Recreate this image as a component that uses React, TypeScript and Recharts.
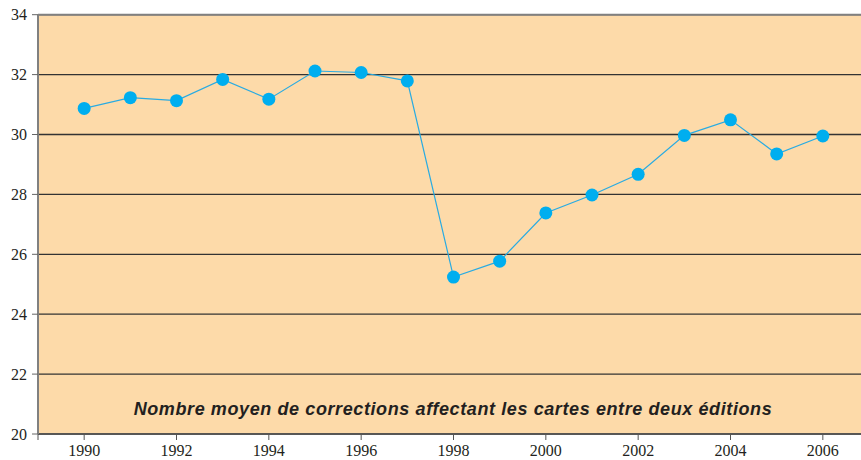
import React from 'react';
import { LineChart, Line, XAxis, YAxis, CartesianGrid, ReferenceLine, Customized } from 'recharts';

const years = [1990, 1991, 1992, 1993, 1994, 1995, 1996, 1997, 1998, 1999, 2000, 2001, 2002, 2003, 2004, 2005, 2006];
const corrections = [30.87, 31.23, 31.13, 31.84, 31.18, 32.12, 32.07, 31.79, 25.24, 25.77, 27.38, 27.98, 28.67, 29.97, 30.49, 29.35, 29.95];
const xTicks = [1989, 1990, 1992, 1994, 1996, 1998, 2000, 2002, 2004, 2006];
const yTicks = [20, 22, 24, 26, 28, 30, 32, 34];
const title = 'Nombre moyen de corrections affectant les cartes entre deux éditions';

const data = years.map((year, i) => ({ year, value: corrections[i] }));

const TitleText = () => (
  <text
    x={453}
    y={415}
    textAnchor="middle"
    fontFamily="'Liberation Sans', Arial, sans-serif"
    fontWeight="bold"
    fontStyle="italic"
    fontSize={18}
    letterSpacing={0.6}
    fill="#231f20"
  >
    {title}
  </text>
);

export default function App() {
  return (
    <div style={{ position: 'fixed', left: 0, top: 0, width: 861, height: 460, overflow: 'hidden', background: '#fff' }}>
      <LineChart width={870} height={460} data={data} margin={{ top: 14.7, right: 1, bottom: 0, left: 0 }}>
        <CartesianGrid vertical={false} stroke="#333" strokeWidth={1.3} fill="#FDDAA9" fillOpacity={1} />
        <XAxis
          dataKey="year"
          type="number"
          domain={[1989, 2007]}
          ticks={xTicks}
          tickFormatter={(v) => (v === 1989 ? '' : String(v))}
          height={26}
          tickSize={6}
          tickMargin={5}
          axisLine={{ stroke: '#555', strokeWidth: 1.5 }}
          tickLine={{ stroke: '#555' }}
          tick={{ fill: '#231f20', fontSize: 16, fontFamily: "'Liberation Serif', 'Times New Roman', serif" }}
          interval={0}
        />
        <YAxis
          type="number"
          domain={[20, 34]}
          ticks={yTicks}
          width={38}
          tickSize={6}
          tickMargin={5}
          axisLine={{ stroke: '#808080', strokeWidth: 2 }}
          tickLine={{ stroke: '#666' }}
          tick={{ fill: '#231f20', fontSize: 16, fontFamily: "'Liberation Serif', 'Times New Roman', serif" }}
          interval={0}
        />
        <ReferenceLine y={34} stroke="#808080" strokeWidth={2} />
        <Line
          dataKey="value"
          stroke="#29ABE2"
          strokeWidth={1.2}
          dot={{ r: 6.5, fill: '#00AEEF', stroke: 'none' }}
          activeDot={false}
          isAnimationActive={false}
        />
        <Customized component={TitleText} />
      </LineChart>
    </div>
  );
}
